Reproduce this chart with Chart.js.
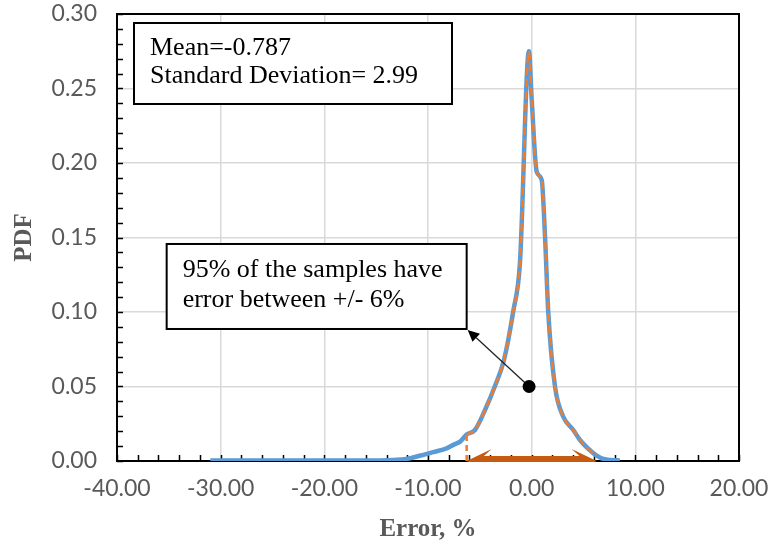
<!DOCTYPE html>
<html lang="en">
<head>
  <meta charset="UTF-8" />
  <title>Error PDF</title>
  <script src="https://cdn.jsdelivr.net/npm/chart.js"></script>
  <style>
    * { box-sizing: border-box; }
    body { margin: 0; background: #fff; }
    #wrap { width: 771px; height: 548px; position: relative; }
  </style>
</head>
<body>
  <div id="wrap"><canvas id="pdf"></canvas></div>
  <script>
  // error (%) and PDF
  const errorPct = [-31.0, -25.0, -20.0, -15.0, -13.4, -12.0, -10.8, -9.5, -8.2, -7.5, -6.9, -6.27, -5.47, -4.5, -3.54, -2.67, -1.77, -1.13, -0.26, 0.0, 0.49, 0.97, 1.29, 1.6, 2.25, 3.05, 4.0, 4.66, 5.95, 6.27, 6.75, 7.56, 8.5];
  const pdf = [0.0003, 0.0003, 0.0003, 0.0004, 0.0006, 0.0015, 0.0035, 0.006, 0.0085, 0.011, 0.013, 0.0178, 0.0208, 0.0342, 0.0503, 0.0678, 0.1007, 0.133, 0.275, 0.243, 0.194, 0.1886, 0.1505, 0.100, 0.050, 0.0297, 0.021, 0.0141, 0.0052, 0.0036, 0.0018, 0.0007, 0.0004];

  const band = [-6.27, 6.27];          // 95% interval
  const markerPt = [-0.25, 0.05];      // black dot of the callout
  const calloutCorner = [-6.27, 0.0886];
  const statsText = ["Mean=-0.787", "Standard Deviation= 2.99"];
  const noteText = ["95% of the samples have", "error between +/- 6%"];

  const xMin = -40, xMax = 20, xStep = 10;
  const yMin = 0, yMax = 0.30, yStep = 0.05;

  const allPts = errorPct.map((v, i) => ({ x: v, y: pdf[i] }));
  const bandPts = allPts.filter(p => p.x >= band[0] && p.x <= band[1]);
  const bandEdge = [{ x: band[0], y: 0 }, { x: band[0], y: pdf[errorPct.indexOf(band[0])] }];

  const gray = '#595959';

  function stealthHead(ctx, tx, ty, dir) {
    // dir = +1 points right, -1 points left
    ctx.beginPath();
    ctx.moveTo(tx, ty);
    ctx.lineTo(tx - dir * 25, ty - 12);
    ctx.lineTo(tx - dir * 15, ty - 3);
    ctx.lineTo(tx - dir * 15, ty + 3);
    ctx.lineTo(tx - dir * 25, ty + 12);
    ctx.closePath();
    ctx.fill();
  }

  function textBox(ctx, l, t, r, b, lines, tx, firstBase, lh) {
    ctx.fillStyle = '#fff';
    ctx.fillRect(l, t, r - l, b - t);
    ctx.strokeStyle = '#000';
    ctx.lineWidth = 2;
    ctx.strokeRect(l, t, r - l, b - t);
    ctx.fillStyle = '#000';
    ctx.font = '26px "Liberation Serif", "Times New Roman", serif';
    ctx.textAlign = 'left';
    ctx.textBaseline = 'alphabetic';
    lines.forEach((s, i) => ctx.fillText(s, tx, firstBase + i * lh));
  }

  const frameAndTicks = {
    id: 'frameAndTicks',
    beforeDatasetsDraw(chart) {
      const { ctx, chartArea: a, scales: { x, y } } = chart;
      ctx.save();
      ctx.strokeStyle = '#000';
      ctx.lineWidth = 1.5;
      ctx.beginPath();
      for (let v = xMin; v <= xMax + 1e-9; v += 2) {
        const px = Math.round(x.getPixelForValue(v)) + 0.5;
        ctx.moveTo(px, a.bottom);
        ctx.lineTo(px, a.bottom - 6);
      }
      for (let k = 0; k <= 30; k++) {
        const py = Math.round(y.getPixelForValue(k * 0.01)) + 0.5;
        ctx.moveTo(a.left, py);
        ctx.lineTo(a.left + 6, py);
      }
      ctx.stroke();
      ctx.lineWidth = 2;
      ctx.strokeRect(a.left, a.top, a.right - a.left, a.bottom - a.top);
      ctx.restore();
    }
  };

  const callouts = {
    id: 'callouts',
    afterDatasetsDraw(chart) {
      const { ctx, chartArea: a, scales: { x, y } } = chart;
      ctx.save();

      // double arrow along the axis, lower half hidden by the plot edge
      ctx.save();
      ctx.beginPath();
      ctx.rect(a.left, a.top, a.right - a.left, a.bottom - a.top + 1);
      ctx.clip();
      const x0 = x.getPixelForValue(band[0]);
      const x1 = x.getPixelForValue(band[1]);
      const y0 = y.getPixelForValue(0);
      ctx.fillStyle = '#C55A11';
      ctx.fillRect(x0 + 10, y0 - 5, x1 - x0 - 20, 10);
      stealthHead(ctx, x0, y0, -1);
      stealthHead(ctx, x1, y0, 1);
      ctx.restore();

      // stats box
      textBox(ctx, 134, 23, 452, 104, statsText, 150, 55, 28);

      // note box
      const cx = x.getPixelForValue(calloutCorner[0]);
      const cy = y.getPixelForValue(calloutCorner[1]);
      textBox(ctx, cx - 300, cy - 85, cx, cy, noteText, cx - 284, cy - 52, 30);

      // pointer from dot to box corner
      const dx = x.getPixelForValue(markerPt[0]);
      const dy = y.getPixelForValue(markerPt[1]);
      const ang = Math.atan2(cy - dy, cx - dx);
      const hl = 13, hw = 5.5;
      const bx = cx - hl * Math.cos(ang), by = cy - hl * Math.sin(ang);
      ctx.strokeStyle = '#222';
      ctx.lineWidth = 1.3;
      ctx.beginPath();
      ctx.moveTo(dx, dy);
      ctx.lineTo(bx, by);
      ctx.stroke();
      ctx.fillStyle = '#000';
      ctx.beginPath();
      ctx.moveTo(cx + 1, cy + 1);
      ctx.lineTo(bx + hw * Math.sin(ang), by - hw * Math.cos(ang));
      ctx.lineTo(bx - hw * Math.sin(ang), by + hw * Math.cos(ang));
      ctx.closePath();
      ctx.fill();
      ctx.beginPath();
      ctx.arc(dx, dy, 6.5, 0, Math.PI * 2);
      ctx.fill();

      ctx.restore();
    }
  };

  const tickFont = { family: 'Lato, "Open Sans", sans-serif', size: 23 };
  const titleFont = { family: '"Liberation Serif", "Times New Roman", serif', size: 25, weight: 'bold' };

  function noPad(scale) {
    scale.paddingLeft = 0;
    scale.paddingRight = 0;
    scale.paddingTop = 0;
    scale.paddingBottom = 0;
  }

  new Chart(document.getElementById('pdf'), {
    type: 'line',
    data: {
      datasets: [
        {
          label: 'PDF',
          data: allPts,
          borderColor: '#5B9BD5',
          borderWidth: 4.5,
          pointRadius: 0,
          cubicInterpolationMode: 'monotone',
          order: 3
        },
        {
          label: '95% band',
          data: bandPts,
          borderColor: '#ED7D31',
          borderWidth: 2.5,
          borderDash: [8, 4],
          pointRadius: 0,
          cubicInterpolationMode: 'monotone',
          order: 2
        },
        {
          label: 'band edge',
          data: bandEdge,
          borderColor: '#ED7D31',
          borderWidth: 2.5,
          borderDash: [6, 4],
          pointRadius: 0,
          order: 1
        }
      ]
    },
    options: {
      responsive: true,
      maintainAspectRatio: false,
      animation: false,
      layout: { padding: { top: 14, right: 32, left: 0, bottom: 0 } },
      plugins: { legend: { display: false }, tooltip: { enabled: false } },
      scales: {
        x: {
          type: 'linear',
          min: xMin,
          max: xMax,
          afterFit: s => { s.height = 87; noPad(s); },
          ticks: {
            stepSize: xStep,
            padding: 14,
            color: gray,
            font: tickFont,
            maxRotation: 0,
            callback: v => v.toFixed(2)
          },
          grid: { color: '#d9d9d9', lineWidth: 1.5, drawTicks: false },
          border: { display: true, color: '#000', width: 2 },
          title: { display: true, text: 'Error, %', color: gray, font: titleFont, padding: { top: 0, bottom: 3 } }
        },
        y: {
          min: yMin,
          max: yMax,
          afterFit: s => { s.width = 117; noPad(s); },
          ticks: {
            stepSize: yStep,
            padding: 20,
            color: gray,
            font: tickFont,
            callback: v => v.toFixed(2)
          },
          grid: { color: '#d9d9d9', lineWidth: 1.5, drawTicks: false },
          border: { display: true, color: '#000', width: 2 },
          title: { display: true, text: 'PDF', color: gray, font: titleFont, padding: { top: 10, bottom: 0 } }
        }
      }
    },
    plugins: [frameAndTicks, callouts]
  });
  </script>
</body>
</html>
